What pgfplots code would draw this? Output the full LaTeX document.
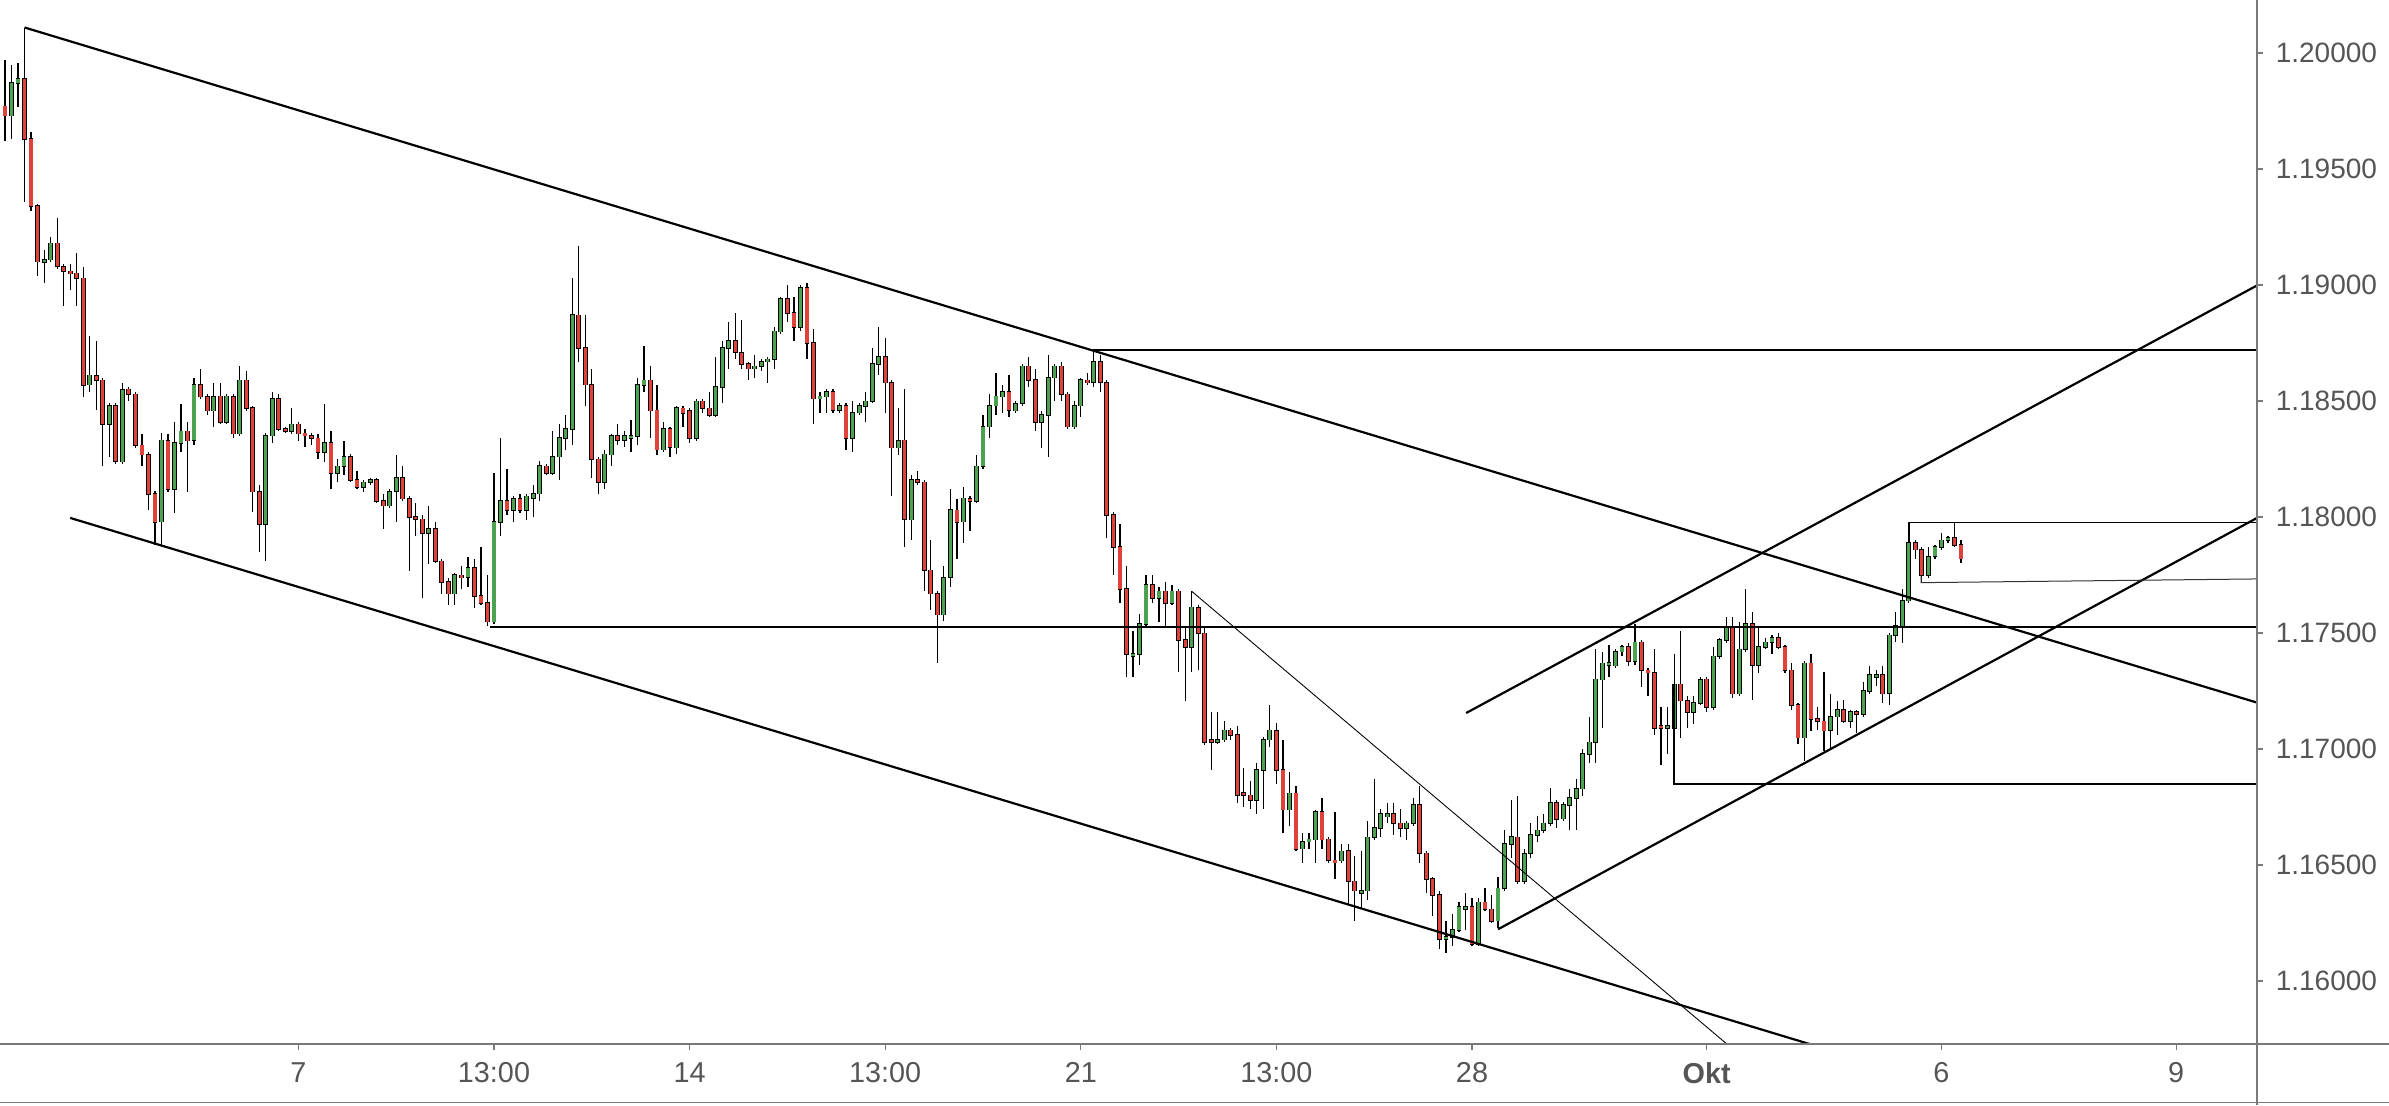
\documentclass[border=0pt]{standalone}
\usepackage{pgfplots}
\usepackage{pgfplotstable}
\pgfplotsset{compat=1.18}
\usepackage{fontspec}
\setmainfont{Liberation Sans}
\definecolor{upg}{RGB}{76,162,78}
\definecolor{dnr}{RGB}{222,66,56}
\definecolor{axg}{RGB}{120,120,120}
\definecolor{txg}{RGB}{85,85,85}
\pgfplotstableread{
i O H L C
0 1.1977 1.1997 1.1962 1.1973
1 1.1973 1.1995 1.1963 1.1987
2 1.1987 1.1996 1.1977 1.1989
3 1.1989 1.2011 1.1936 1.1963
4 1.1963 1.1966 1.1932 1.1934
5 1.1934 1.1935 1.1904 1.1910
6 1.1910 1.1915 1.1901 1.1911
7 1.1911 1.1921 1.1910 1.1918
8 1.1918 1.1929 1.1907 1.1908
9 1.1908 1.1909 1.1891 1.1906
10 1.1906 1.1909 1.1898 1.1905
11 1.1905 1.1914 1.1891 1.1903
12 1.1903 1.1908 1.1852 1.1857
13 1.1857 1.1878 1.1854 1.1861
14 1.1861 1.1876 1.1846 1.1859
15 1.1859 1.1860 1.1822 1.1840
16 1.1840 1.1849 1.1826 1.1848
17 1.1848 1.1849 1.1823 1.1824
18 1.1824 1.1858 1.1823 1.1855
19 1.1855 1.1856 1.1850 1.1853
20 1.1853 1.1854 1.1830 1.1831
21 1.1831 1.1836 1.1822 1.1827
22 1.1827 1.1828 1.1803 1.1810
23 1.1810 1.1811 1.1788 1.1798
24 1.1798 1.1836 1.1788 1.1833
25 1.1833 1.1836 1.1811 1.1812
26 1.1812 1.1841 1.1802 1.1832
27 1.1832 1.1849 1.1828 1.1837
28 1.1837 1.1841 1.1811 1.1833
29 1.1833 1.1860 1.1831 1.1857
30 1.1857 1.1864 1.1851 1.1852
31 1.1852 1.1853 1.1844 1.1846
32 1.1846 1.1858 1.1839 1.1852
33 1.1852 1.1858 1.1840 1.1841
34 1.1841 1.1853 1.1840 1.1852
35 1.1852 1.1853 1.1834 1.1836
36 1.1836 1.1865 1.1835 1.1859
37 1.1859 1.1863 1.1846 1.1847
38 1.1847 1.1848 1.1802 1.1811
39 1.1811 1.1814 1.1785 1.1797
40 1.1797 1.1836 1.1781 1.1835
41 1.1835 1.1854 1.1832 1.1851
42 1.1851 1.1853 1.1837 1.1838
43 1.1838 1.1839 1.1836 1.1837
44 1.1837 1.1847 1.1836 1.1840
45 1.1840 1.1841 1.1833 1.1836
46 1.1836 1.1838 1.1830 1.1835
47 1.1835 1.1836 1.1831 1.1834
48 1.1834 1.1836 1.1825 1.1828
49 1.1828 1.1849 1.1824 1.1832
50 1.1832 1.1837 1.1812 1.1819
51 1.1819 1.1825 1.1815 1.1822
52 1.1822 1.1833 1.1818 1.1826
53 1.1826 1.1827 1.1815 1.1816
54 1.1816 1.1820 1.1812 1.1813
55 1.1813 1.1816 1.1811 1.1815
56 1.1815 1.1817 1.1814 1.1816
57 1.1816 1.1817 1.1806 1.1807
58 1.1807 1.1810 1.1795 1.1805
59 1.1805 1.1812 1.1804 1.1811
60 1.1811 1.1827 1.1798 1.1817
61 1.1817 1.1822 1.1807 1.1808
62 1.1808 1.1809 1.1777 1.1800
63 1.1800 1.1806 1.1792 1.1799
64 1.1799 1.1801 1.1765 1.1793
65 1.1793 1.1805 1.1780 1.1795
66 1.1795 1.1798 1.1780 1.1781
67 1.1781 1.1782 1.1767 1.1772
68 1.1772 1.1774 1.1762 1.1767
69 1.1767 1.1776 1.1762 1.1775
70 1.1775 1.1779 1.1769 1.1774
71 1.1774 1.1783 1.1770 1.1778
72 1.1778 1.1782 1.1761 1.1766
73 1.1766 1.1787 1.1762 1.1763
74 1.1763 1.1775 1.1753 1.1755
75 1.1755 1.1819 1.1754 1.1798
76 1.1798 1.1834 1.1792 1.1807
77 1.1807 1.1821 1.1801 1.1803
78 1.1803 1.1809 1.1798 1.1808
79 1.1808 1.1810 1.1802 1.1803
80 1.1803 1.1810 1.1799 1.1809
81 1.1808 1.1814 1.1800 1.1810
82 1.1810 1.1824 1.1807 1.1822
83 1.1822 1.1823 1.1818 1.1819
84 1.1819 1.1837 1.1818 1.1826
85 1.1826 1.1840 1.1816 1.1834
86 1.1834 1.1844 1.1829 1.1838
87 1.1838 1.1903 1.1831 1.1887
88 1.1887 1.1917 1.1867 1.1873
89 1.1873 1.1887 1.1848 1.1857
90 1.1857 1.1864 1.1817 1.1825
91 1.1825 1.1826 1.1810 1.1815
92 1.1815 1.1829 1.1812 1.1827
93 1.1827 1.1836 1.1822 1.1835
94 1.1835 1.1840 1.1831 1.1833
95 1.1833 1.1837 1.1830 1.1835
96 1.1834 1.1842 1.1828 1.1835
97 1.1835 1.1860 1.1831 1.1857
98 1.1857 1.1874 1.1854 1.1859
99 1.1859 1.1865 1.1834 1.1846
100 1.1846 1.1857 1.1827 1.1829
101 1.1829 1.1841 1.1828 1.1838
102 1.1838 1.1839 1.1826 1.1830
103 1.1830 1.1848 1.1827 1.1847
104 1.1847 1.1848 1.1839 1.1845
105 1.1846 1.1847 1.1832 1.1834
106 1.1834 1.1851 1.1833 1.1850
107 1.1850 1.1851 1.1845 1.1847
108 1.1847 1.1854 1.1843 1.1844
109 1.1844 1.1869 1.1843 1.1856
110 1.1856 1.1876 1.1849 1.1873
111 1.1873 1.1884 1.1864 1.1876
112 1.1876 1.1888 1.1868 1.1871
113 1.1871 1.1885 1.1864 1.1866
114 1.1866 1.1867 1.1859 1.1864
115 1.1864 1.1870 1.1860 1.1865
116 1.1865 1.1868 1.1863 1.1867
117 1.1867 1.1869 1.1858 1.1868
118 1.1868 1.1882 1.1864 1.1880
119 1.1880 1.1895 1.1879 1.1894
120 1.1894 1.1900 1.1884 1.1888
121 1.1888 1.1895 1.1876 1.1882
122 1.1882 1.1900 1.1880 1.1899
123 1.1899 1.1901 1.1868 1.1875
124 1.1875 1.1881 1.1840 1.1851
125 1.1851 1.1854 1.1845 1.1852
126 1.1852 1.1855 1.1845 1.1854
127 1.1854 1.1855 1.1845 1.1846
128 1.1846 1.1849 1.1845 1.1848
129 1.1848 1.1849 1.1829 1.1834
130 1.1834 1.1850 1.1828 1.1845
131 1.1845 1.1849 1.1844 1.1848
132 1.1848 1.1854 1.1841 1.1850
133 1.1850 1.1873 1.1849 1.1866
134 1.1866 1.1882 1.1861 1.1869
135 1.1869 1.1877 1.1845 1.1858
136 1.1858 1.1859 1.1809 1.1830
137 1.1830 1.1847 1.1827 1.1833
138 1.1833 1.1855 1.1787 1.1799
139 1.1799 1.1818 1.1790 1.1816
140 1.1816 1.1820 1.1814 1.1815
141 1.1815 1.1816 1.1768 1.1777
142 1.1777 1.1790 1.1760 1.1767
143 1.1767 1.1768 1.1737 1.1758
144 1.1758 1.1779 1.1755 1.1774
145 1.1774 1.1812 1.1770 1.1803
146 1.1803 1.1808 1.1782 1.1798
147 1.1798 1.1813 1.1789 1.1808
148 1.1808 1.1809 1.1794 1.1807
149 1.1807 1.1827 1.1806 1.1822
150 1.1822 1.1844 1.1821 1.1839
151 1.1839 1.1853 1.1834 1.1848
152 1.1848 1.1862 1.1844 1.1852
153 1.1852 1.1857 1.1845 1.1854
154 1.1854 1.1861 1.1843 1.1846
155 1.1846 1.1850 1.1845 1.1849
156 1.1849 1.1866 1.1848 1.1865
157 1.1865 1.1869 1.1856 1.1859
158 1.1859 1.1864 1.1837 1.1841
159 1.1841 1.1846 1.1830 1.1844
160 1.1844 1.1870 1.1826 1.1860
161 1.1860 1.1866 1.1850 1.1865
162 1.1865 1.1867 1.1850 1.1853
163 1.1853 1.1854 1.1838 1.1839
164 1.1839 1.1850 1.1838 1.1848
165 1.1848 1.1860 1.1843 1.1859
166 1.1859 1.1862 1.1857 1.1858
167 1.1858 1.1872 1.1856 1.1867
168 1.1867 1.1870 1.1854 1.1858
169 1.1858 1.1859 1.1791 1.1801
170 1.1801 1.1802 1.1775 1.1787
171 1.1787 1.1797 1.1763 1.1769
172 1.1769 1.1779 1.1731 1.1741
173 1.1740 1.1751 1.1731 1.1741
174 1.1741 1.1758 1.1736 1.1754
175 1.1754 1.1775 1.1753 1.1771
176 1.1771 1.1775 1.1763 1.1765
177 1.1765 1.1770 1.1755 1.1768
178 1.1768 1.1772 1.1753 1.1763
179 1.1763 1.1771 1.1762 1.1768
180 1.1768 1.1769 1.1733 1.1747
181 1.1747 1.1753 1.1721 1.1744
182 1.1744 1.1768 1.1733 1.1761
183 1.1761 1.1762 1.1734 1.1750
184 1.1750 1.1753 1.1702 1.1703
185 1.1704 1.1716 1.1691 1.1703
186 1.1703 1.1716 1.1702 1.1704
187 1.1704 1.1712 1.1703 1.1708
188 1.1708 1.1709 1.1704 1.1706
189 1.1706 1.1710 1.1677 1.1680
190 1.1681 1.1692 1.1675 1.1680
191 1.1680 1.1686 1.1674 1.1678
192 1.1678 1.1694 1.1672 1.1691
193 1.1691 1.1705 1.1674 1.1704
194 1.1704 1.1719 1.1701 1.1708
195 1.1708 1.1711 1.1685 1.1691
196 1.1691 1.1704 1.1664 1.1674
197 1.1674 1.1690 1.1667 1.1681
198 1.1681 1.1684 1.1656 1.1657
199 1.1657 1.1664 1.1651 1.1660
200 1.1660 1.1664 1.1657 1.1661
201 1.1661 1.1674 1.1651 1.1673
202 1.1673 1.1679 1.1657 1.1661
203 1.1661 1.1662 1.1651 1.1652
204 1.1652 1.1673 1.1644 1.1651
205 1.1652 1.1659 1.1651 1.1656
206 1.1656 1.1659 1.1633 1.1643
207 1.1643 1.1654 1.1626 1.1639
208 1.1638 1.1656 1.1631 1.1639
209 1.1639 1.1669 1.1635 1.1662
210 1.1662 1.1687 1.1661 1.1666
211 1.1666 1.1674 1.1662 1.1672
212 1.1671 1.1677 1.1668 1.1672
213 1.1672 1.1677 1.1663 1.1668
214 1.1668 1.1674 1.1662 1.1666
215 1.1666 1.1669 1.1661 1.1668
216 1.1668 1.1679 1.1667 1.1676
217 1.1676 1.1684 1.1651 1.1655
218 1.1655 1.1656 1.1638 1.1644
219 1.1644 1.1645 1.1628 1.1637
220 1.1637 1.1639 1.1614 1.1618
221 1.1618 1.1626 1.1612 1.1619
222 1.1619 1.1629 1.1615 1.1622
223 1.1622 1.1634 1.1621 1.1632
224 1.1631 1.1638 1.1622 1.1632
225 1.1632 1.1636 1.1615 1.1616
226 1.1616 1.1636 1.1615 1.1634
227 1.1634 1.1640 1.1630 1.1631
228 1.1631 1.1637 1.1625 1.1626
229 1.1626 1.1645 1.1623 1.1640
230 1.1640 1.1665 1.1639 1.1659
231 1.1659 1.1678 1.1653 1.1662
232 1.1662 1.1680 1.1642 1.1643
233 1.1643 1.1657 1.1642 1.1655
234 1.1655 1.1668 1.1653 1.1663
235 1.1663 1.1671 1.1660 1.1665
236 1.1665 1.1672 1.1664 1.1668
237 1.1668 1.1683 1.1667 1.1677
238 1.1677 1.1678 1.1666 1.1670
239 1.1670 1.1677 1.1669 1.1676
240 1.1676 1.1683 1.1665 1.1679
241 1.1679 1.1687 1.1665 1.1683
242 1.1683 1.1700 1.1680 1.1698
243 1.1698 1.1714 1.1694 1.1703
244 1.1703 1.1743 1.1694 1.1730
245 1.1730 1.1742 1.1709 1.1737
246 1.1736 1.1745 1.1731 1.1737
247 1.1736 1.1743 1.1735 1.1742
248 1.1742 1.1745 1.1740 1.1744
249 1.1744 1.1746 1.1736 1.1738
250 1.1738 1.1754 1.1736 1.1746
251 1.1746 1.1747 1.1727 1.1734
252 1.1734 1.1735 1.1723 1.1733
253 1.1733 1.1743 1.1706 1.1709
254 1.1710 1.1718 1.1693 1.1709
255 1.1709 1.1718 1.1698 1.1710
256 1.1709 1.1741 1.1708 1.1728
257 1.1728 1.1751 1.1705 1.1721
258 1.1721 1.1723 1.1709 1.1716
259 1.1716 1.1723 1.1711 1.1720
260 1.1720 1.1731 1.1719 1.1730
261 1.1730 1.1731 1.1716 1.1718
262 1.1718 1.1744 1.1717 1.1740
263 1.1740 1.1748 1.1739 1.1747
264 1.1747 1.1757 1.1746 1.1753
265 1.1753 1.1757 1.1722 1.1724
266 1.1724 1.1755 1.1723 1.1743
267 1.1743 1.1769 1.1742 1.1754
268 1.1754 1.1759 1.1721 1.1736
269 1.1736 1.1753 1.1733 1.1744
270 1.1744 1.1748 1.1743 1.1746
271 1.1746 1.1749 1.1741 1.1748
272 1.1748 1.1750 1.1743 1.1744
273 1.1744 1.1745 1.1733 1.1734
274 1.1734 1.1737 1.1717 1.1719
275 1.1719 1.1720 1.1702 1.1705
276 1.1705 1.1738 1.1695 1.1737
277 1.1737 1.1741 1.1708 1.1713
278 1.1713 1.1718 1.1708 1.1712
279 1.1712 1.1733 1.1699 1.1708
280 1.1708 1.1724 1.1700 1.1714
281 1.1714 1.1721 1.1706 1.1717
282 1.1717 1.1721 1.1711 1.1712
283 1.1712 1.1717 1.1709 1.1716
284 1.1716 1.1717 1.1707 1.1715
285 1.1715 1.1729 1.1714 1.1725
286 1.1725 1.1736 1.1724 1.1732
287 1.1731 1.1734 1.1727 1.1732
288 1.1732 1.1736 1.1720 1.1724
289 1.1724 1.1750 1.1719 1.1749
290 1.1749 1.1759 1.1746 1.1753
291 1.1753 1.1769 1.1746 1.1764
292 1.1764 1.1794 1.1763 1.1789
293 1.1789 1.1790 1.1782 1.1786
294 1.1786 1.1787 1.1772 1.1775
295 1.1775 1.1787 1.1774 1.1783
296 1.1783 1.1788 1.1782 1.1787
297 1.1787 1.1793 1.1786 1.1790
298 1.1790 1.1792 1.1789 1.1791
299 1.1791 1.1798 1.1787 1.1788
300 1.1788 1.1790 1.1780 1.1782
}\candles
\begin{document}
\begin{tikzpicture}
\useasboundingbox (0pt,0pt) rectangle (597.25pt,276.25pt);
\begin{axis}[
  at={(0pt,15.25pt)}, anchor=south west,
  scale only axis, width=564.25pt, height=261pt,
  xmin=-0.767, xmax=345.4, ymin=1.157284, ymax=1.202284,
  axis x line*=bottom, axis y line*=right,
  axis line style={draw=none},
  clip=true,
  /pgf/number format/assume math mode=true,
  ytick={1.16,1.165,1.17,1.175,1.18,1.185,1.19,1.195,1.2},
  yticklabels={1.16000,1.16500,1.17000,1.17500,1.18000,1.18500,1.19000,1.19500,1.20000},
  xtick={45,75,105,135,165,195,225,261,297,333},
  xticklabels={7,13:00,14,13:00,21,13:00,28,\textbf{Okt},6,9},
  tick align=outside, major tick length=1.5pt,
  tick style={draw=axg, line width=0.3pt},
  yticklabel style={font=\fontsize{7}{8}\selectfont, text=txg, anchor=west, inner sep=0pt, xshift=3pt},
  xticklabel style={font=\fontsize{7.2}{8}\selectfont, text=txg, anchor=north, inner sep=0pt, yshift=-3pt},
]
% wicks
\addplot[draw=none, mark=none, forget plot,
  error bars/.cd, y dir=both, y explicit, error mark=none,
  error bar style={draw=black, line width=0.3pt}]
  table[x=i, y expr={(\thisrow{H}+\thisrow{L})/2}, y error expr={(\thisrow{H}-\thisrow{L})/2}] {\candles};
% body outlines
\addplot[draw=none, mark=none, forget plot,
  error bars/.cd, y dir=both, y explicit, error mark=none,
  error bar style={draw=black, line width=1.2pt}]
  table[x=i, y expr={(\thisrow{O}+\thisrow{C})/2}, y error expr={abs(\thisrow{C}-\thisrow{O})/2+0.00003}] {\candles};
% green bodies
\addplot[draw=none, mark=none, forget plot,
  restrict expr to domain={\thisrow{C}-\thisrow{O}}{0:1},
  error bars/.cd, y dir=both, y explicit, error mark=none,
  error bar style={draw=upg, line width=0.8pt}]
  table[x=i, y expr={(\thisrow{O}+\thisrow{C})/2}, y error expr={abs(\thisrow{C}-\thisrow{O})/2}] {\candles};
% red bodies
\addplot[draw=none, mark=none, forget plot,
  restrict expr to domain={\thisrow{C}-\thisrow{O}}{-1:-0.00001},
  error bars/.cd, y dir=both, y explicit, error mark=none,
  error bar style={draw=dnr, line width=0.8pt}]
  table[x=i, y expr={(\thisrow{O}+\thisrow{C})/2}, y error expr={abs(\thisrow{C}-\thisrow{O})/2}] {\candles};
% trend lines
\addplot[black, line width=0.55pt] coordinates {(3,1.2011) (345.4,1.1720)};
\addplot[black, line width=0.55pt] coordinates {(10,1.17996) (276.8,1.15728)};
\addplot[black, line width=0.22pt] coordinates {(182,1.1768) (264.1,1.15728)};
\addplot[black, line width=0.42pt] coordinates {(166.9,1.1872) (345.4,1.1872)};
\addplot[black, line width=0.42pt] coordinates {(74.4,1.17527) (345.4,1.17527)};
\addplot[black, line width=0.55pt] coordinates {(224.1,1.17155) (345.4,1.18998)};
\addplot[black, line width=0.55pt] coordinates {(229.0,1.16223) (345.4,1.17996)};
\addplot[black, line width=0.4pt] coordinates {(292,1.1789) (292,1.17977) (345.4,1.17977)};
\addplot[black!80, line width=0.25pt] coordinates {(293.9,1.1775) (293.9,1.17717) (345.4,1.17733)};
\addplot[black, line width=0.4pt] coordinates {(256,1.1728) (256,1.1685) (345.4,1.1685)};
\end{axis}
\draw[axg, line width=0.35pt] (0pt,15.25pt) -- (597.25pt,15.25pt);
\draw[axg, line width=0.35pt] (564.25pt,0pt) -- (564.25pt,276.25pt);
\draw[axg, line width=0.4pt] (0pt,0.6pt) -- (597.25pt,0.6pt);
\end{tikzpicture}
\end{document}
